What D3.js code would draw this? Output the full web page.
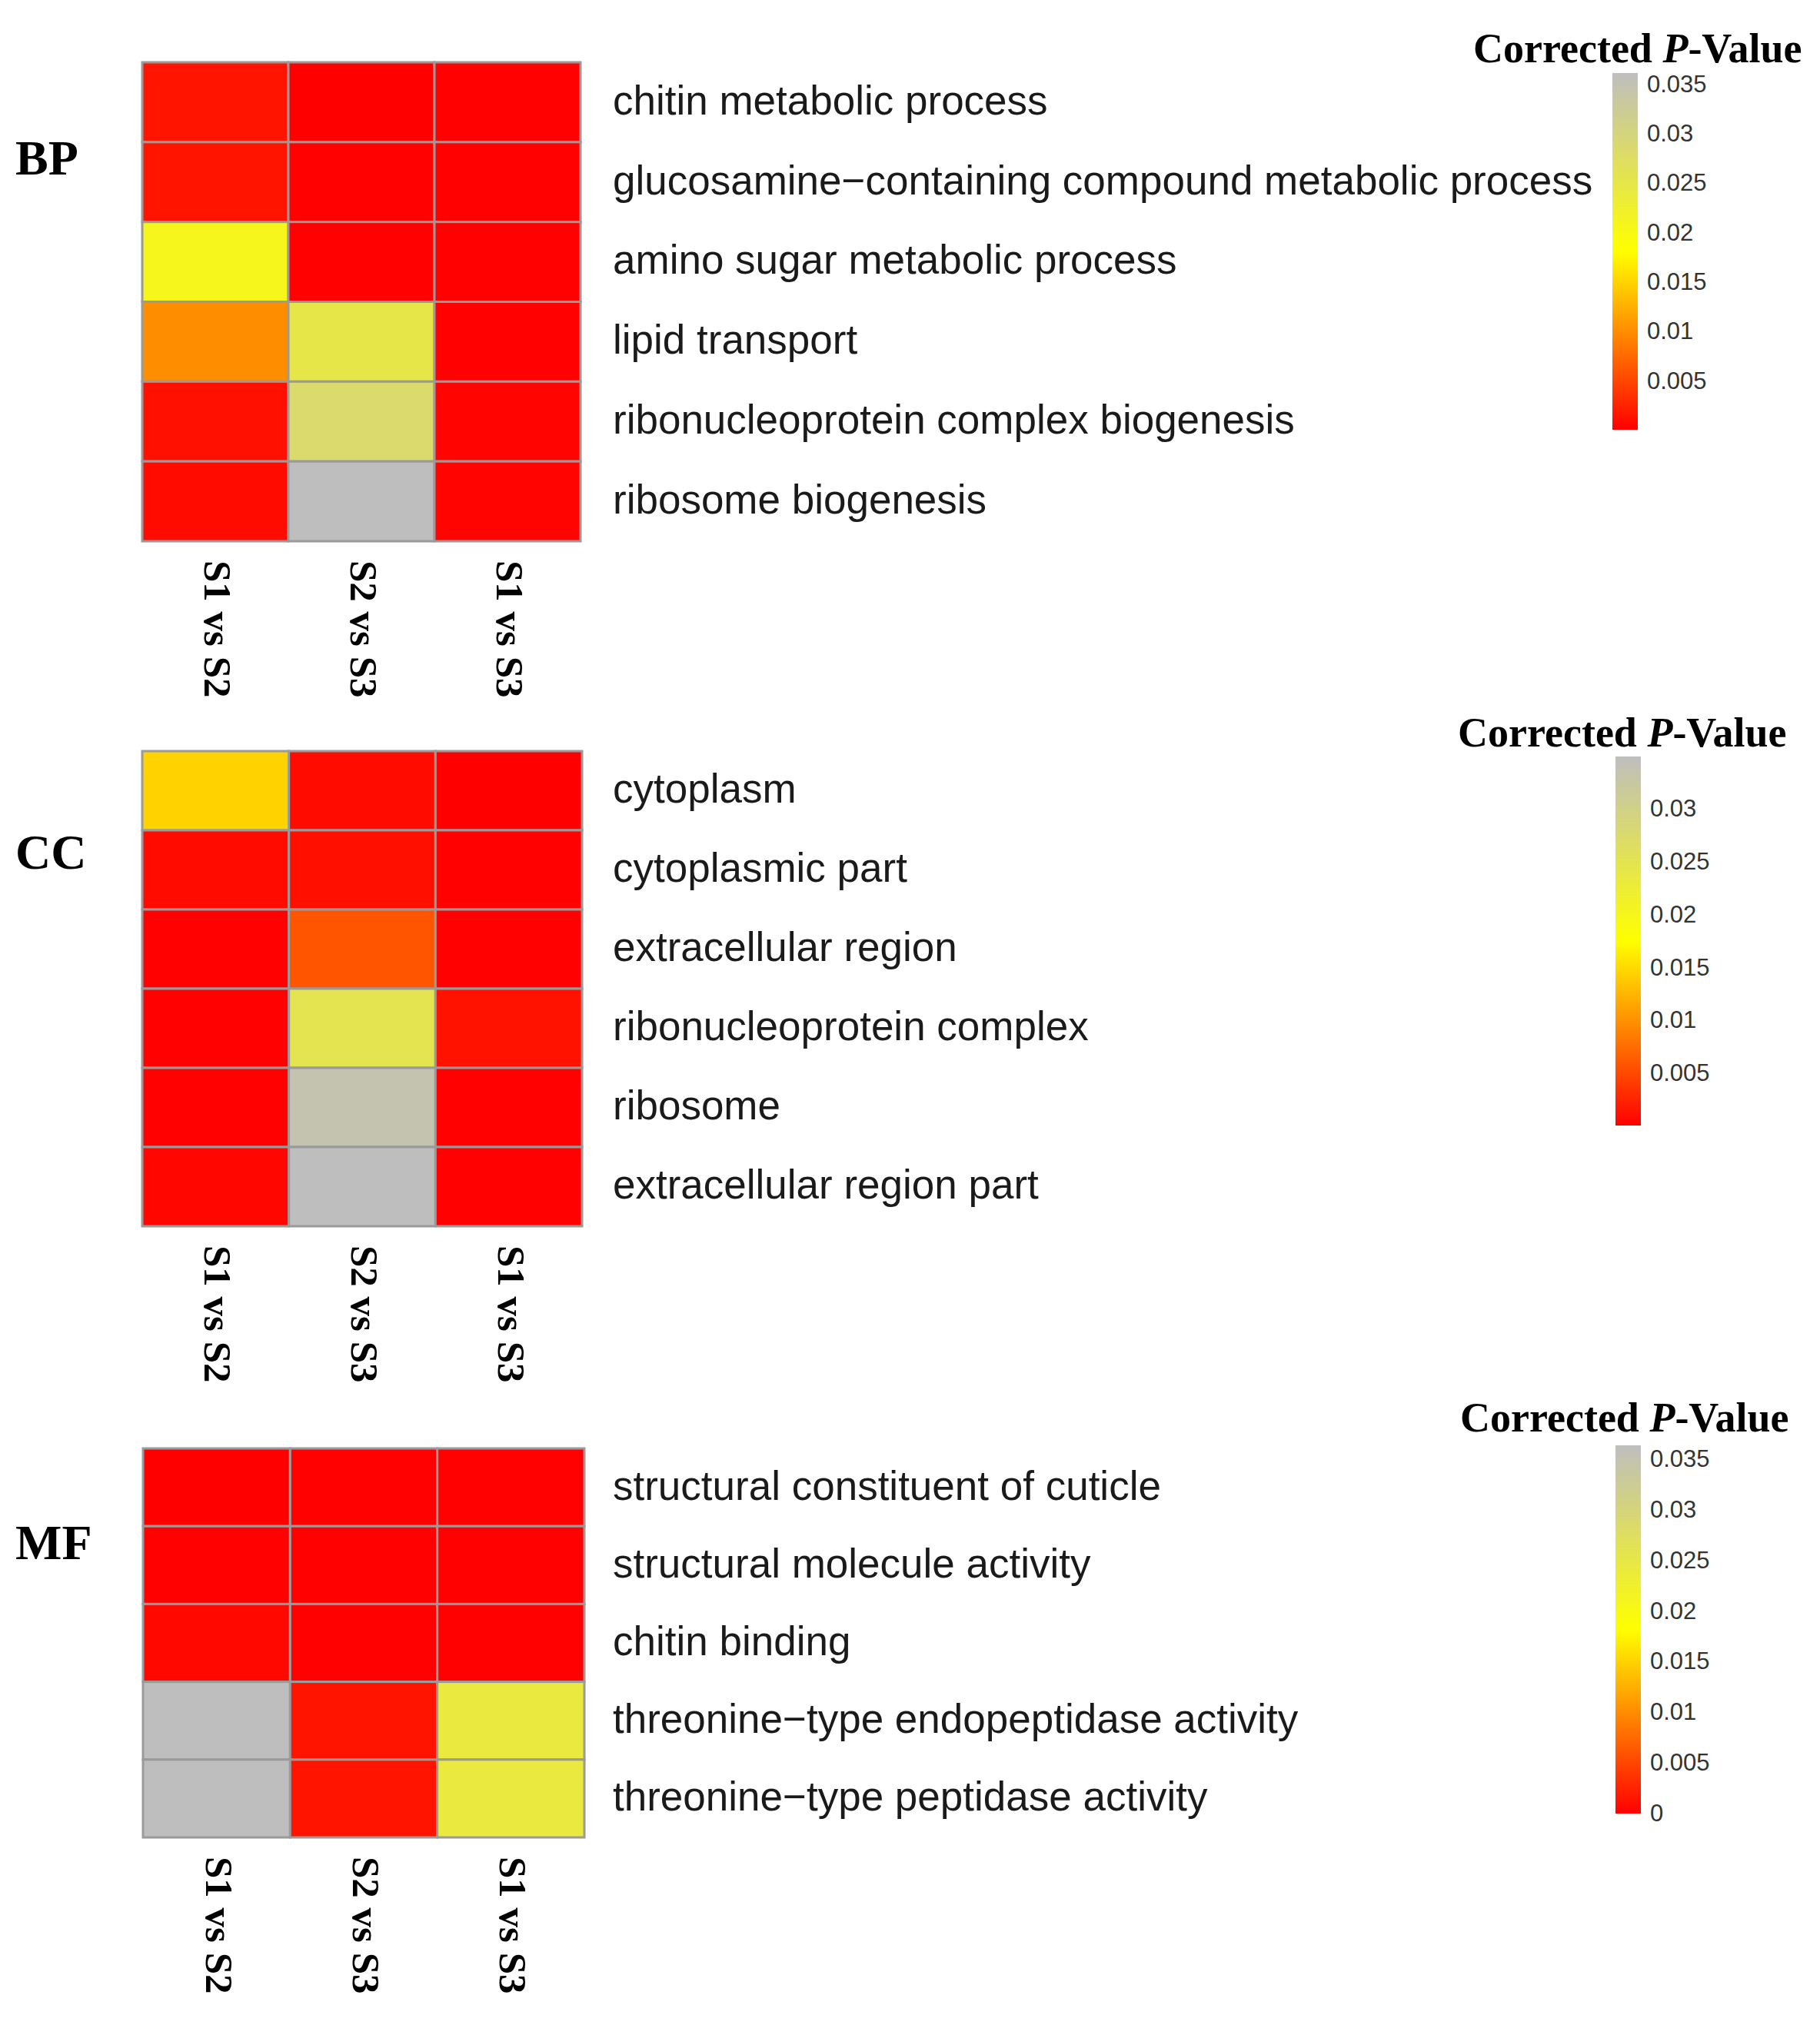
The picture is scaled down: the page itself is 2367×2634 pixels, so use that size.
<!DOCTYPE html>
<html>
<head>
<meta charset="utf-8">
<script src="https://cdn.jsdelivr.net/npm/d3@7"></script>
<style>
  body { margin: 0; background: #fff; }
  svg { display: block; }
</style>
</head>
<body>
<script>
// GO enrichment heatmaps: corrected p-values per comparison

var comparisons = ["S1 vs S2", "S2 vs S3", "S1 vs S3"];

// BP
var bpTerms = [
  "chitin metabolic process",
  "glucosamine\u2212containing compound metabolic process",
  "amino sugar metabolic process",
  "lipid transport",
  "ribonucleoprotein complex biogenesis",
  "ribosome biogenesis"
];
var bpValues = [
  [0.00143, 0.00005, 0.0001],
  [0.00143, 0.0001, 0.0001],
  [0.0207, 0.0001, 0.0001],
  [0.0100, 0.0249, 0.0001],
  [0.00115, 0.0284, 0.0003],
  [0.00086, 0.0361, 0.0003]
];
var bpTicks = [0.005, 0.01, 0.015, 0.02, 0.025, 0.03, 0.035];

// CC
var ccTerms = [
  "cytoplasm",
  "cytoplasmic part",
  "extracellular region",
  "ribonucleoprotein complex",
  "ribosome",
  "extracellular region part"
];
var ccValues = [
  [0.0144, 0.00082, 0.00005],
  [0.00082, 0.0011, 0.0001],
  [0.0001, 0.0058, 0.0001],
  [0.0001, 0.0248, 0.00137],
  [0.0001, 0.0336, 0.0001],
  [0.00055, 0.0349, 0.0001]
];
var ccTicks = [0.005, 0.01, 0.015, 0.02, 0.025, 0.03];

// MF
var mfTerms = [
  "structural constituent of cuticle",
  "structural molecule activity",
  "chitin binding",
  "threonine\u2212type endopeptidase activity",
  "threonine\u2212type peptidase activity"
];
var mfValues = [
  [0, 0.0001, 0.0001],
  [0.0001, 0.0001, 0.0001],
  [0.00057, 0.0001, 0.0001],
  [0.0363, 0.00142, 0.0243],
  [0.0363, 0.00142, 0.0243]
];
var mfTicks = [0, 0.005, 0.01, 0.015, 0.02, 0.025, 0.03, 0.035];

// where each block sits on the page
var panels = [
  {name: "BP", terms: bpTerms, values: bpValues, ticks: bpTicks,
   x0: 185, x1: 755, y0: 81, y1: 704, labelY: 227,
   barX: 2097, barTop: 95, barBottom: 559, titleX: 1916, titleY: 81},
  {name: "CC", terms: ccTerms, values: ccValues, ticks: ccTicks,
   x0: 185, x1: 757, y0: 977, y1: 1595, labelY: 1130,
   barX: 2101, barTop: 984, barBottom: 1464, titleX: 1896, titleY: 971},
  {name: "MF", terms: mfTerms, values: mfValues, ticks: mfTicks,
   x0: 186, x1: 760, y0: 1884, y1: 2390, labelY: 2028,
   barX: 2101, barTop: 1880, barBottom: 2359, titleX: 1899, titleY: 1862}
];

var width = 2367, height = 2634;
var serif = "'Liberation Serif', 'Times New Roman', serif";
var sans = "'Liberation Sans', Arial, sans-serif";

var svg = d3.select("body").append("svg")
    .attr("width", width)
    .attr("height", height);

svg.append("rect")
    .attr("width", width)
    .attr("height", height)
    .attr("fill", "#fff");

var defs = svg.append("defs");

panels.forEach(function(p, pi) {
    var flat = d3.merge(p.values);
    var vmin = d3.min(flat), vmax = d3.max(flat);

    // red -> yellow -> grey, like colorRampPalette in pheatmap
    var color = d3.scaleLinear()
        .domain([vmin, (vmin + vmax) / 2, vmax])
        .range(["#ff0000", "#ffff00", "#bebebe"]);

    var x = d3.scaleBand().domain(comparisons).range([p.x0, p.x1]);
    var y = d3.scaleBand().domain(p.terms).range([p.y0, p.y1]);

    var g = svg.append("g");

    // cells
    var cells = [];
    p.values.forEach(function(row, i) {
        row.forEach(function(v, j) {
            cells.push({term: p.terms[i], comp: comparisons[j], value: v});
        });
    });

    g.selectAll("rect.cell")
        .data(cells)
        .enter().append("rect")
        .attr("class", "cell")
        .attr("x", function(d) { return x(d.comp); })
        .attr("y", function(d) { return y(d.term); })
        .attr("width", x.bandwidth())
        .attr("height", y.bandwidth())
        .attr("fill", function(d) { return color(d.value); })
        .attr("stroke", "#9a9a9a")
        .attr("stroke-width", 3);

    // row labels on the right
    g.selectAll("text.row")
        .data(p.terms)
        .enter().append("text")
        .attr("class", "row")
        .attr("x", 797)
        .attr("y", function(d) { return y(d) + y.bandwidth() / 2; })
        .attr("dy", "0.3em")
        .attr("font-family", sans)
        .attr("font-size", 53)
        .attr("fill", "#1a1a1a")
        .text(function(d) { return d; });

    // column labels, rotated to read downwards
    g.selectAll("text.col")
        .data(comparisons)
        .enter().append("text")
        .attr("class", "col")
        .attr("transform", function(d) {
            return "translate(" + (x(d) + x.bandwidth() / 2 + 4) + "," + (p.y1 + 25) + ") rotate(90)";
        })
        .attr("dy", "0.35em")
        .attr("font-family", serif)
        .attr("font-weight", "bold")
        .attr("font-size", 51)
        .attr("fill", "#000")
        .text(function(d) { return d; });

    // panel label
    svg.append("text")
        .attr("x", 20)
        .attr("y", p.labelY)
        .attr("font-family", serif)
        .attr("font-weight", "bold")
        .attr("font-size", 64)
        .attr("fill", "#000")
        .text(p.name);

    // legend
    var ly = d3.scaleLinear()
        .domain([vmin, vmax])
        .range([p.barBottom, p.barTop]);

    var grad = defs.append("linearGradient")
        .attr("id", "grad" + pi)
        .attr("x1", "0%").attr("y1", "100%")
        .attr("x2", "0%").attr("y2", "0%");

    grad.selectAll("stop")
        .data(d3.range(0, 1.0001, 0.05))
        .enter().append("stop")
        .attr("offset", function(t) { return (t * 100) + "%"; })
        .attr("stop-color", function(t) { return color(vmin + t * (vmax - vmin)); });

    var barW = 33;
    svg.append("rect")
        .attr("x", p.barX)
        .attr("y", ly(vmax))
        .attr("width", barW)
        .attr("height", ly(vmin) - ly(vmax))
        .attr("fill", "url(#grad" + pi + ")");

    var axis = svg.append("g")
        .attr("transform", "translate(" + (p.barX + barW) + ",0)")
        .call(d3.axisRight(ly)
            .tickValues(p.ticks)
            .tickSize(0)
            .tickPadding(12)
            .tickFormat(function(d) { return String(+d.toFixed(3)); }));
    axis.select(".domain").remove();
    axis.selectAll("text")
        .attr("font-family", sans)
        .attr("font-size", 31)
        .attr("fill", "#333");

    // legend title with italic P
    var title = svg.append("text")
        .attr("x", p.titleX)
        .attr("y", p.titleY)
        .attr("font-family", serif)
        .attr("font-weight", "bold")
        .attr("font-size", 54)
        .attr("fill", "#000");
    title.append("tspan").text("Corrected ");
    title.append("tspan").attr("font-style", "italic").text("P");
    title.append("tspan").text("-Value");
});
</script>
</body>
</html>
